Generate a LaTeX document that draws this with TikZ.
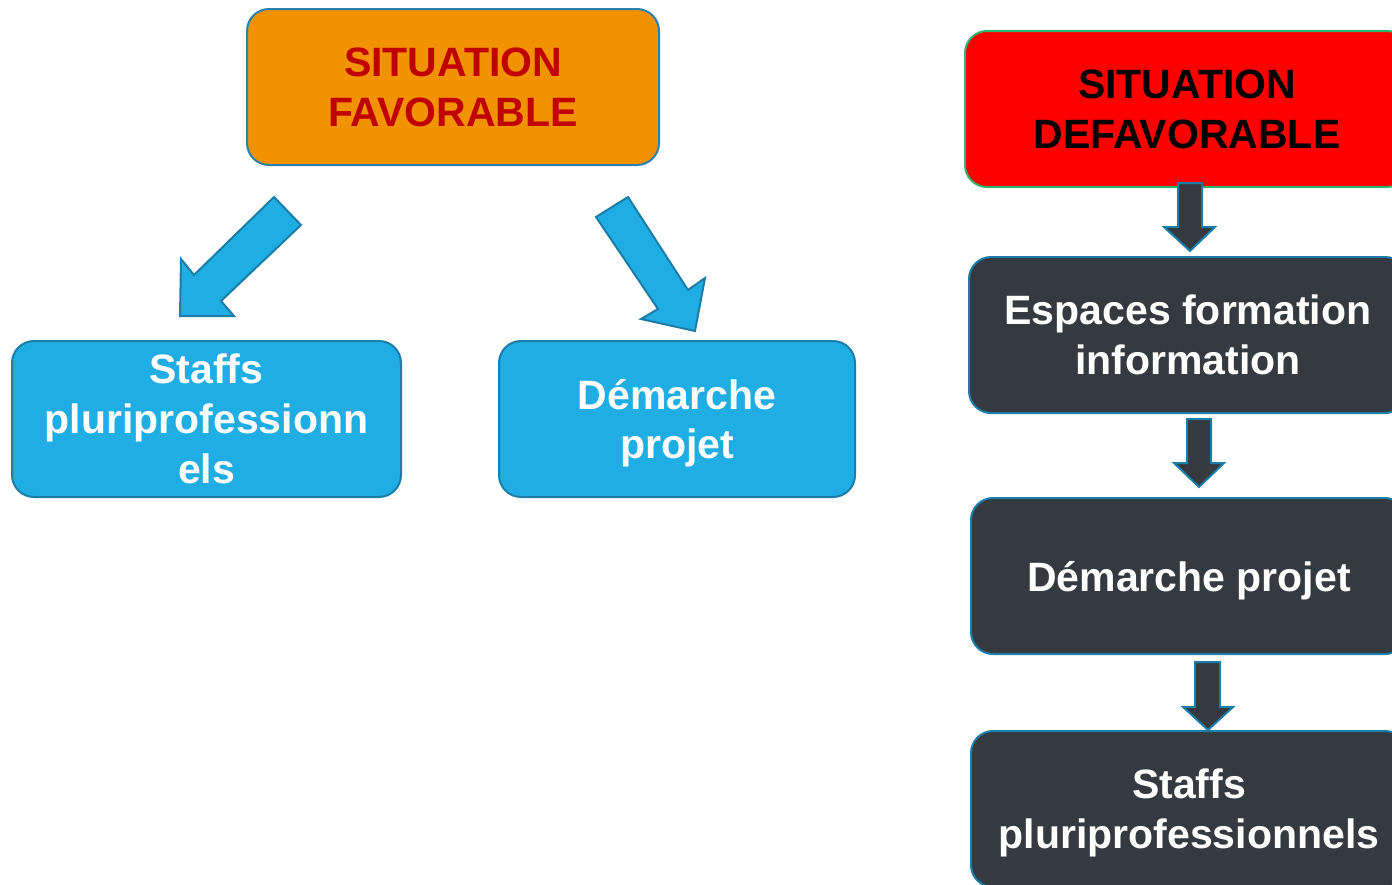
\documentclass[tikz,border=0pt]{standalone}
\usepackage{fontspec}
\setmainfont{Liberation Sans}
\definecolor{orangeF}{HTML}{F29200}
\definecolor{darkred}{HTML}{C00000}
\definecolor{blueF}{HTML}{1FADE3}
\definecolor{blueB}{HTML}{1B7DA8}
\definecolor{darkF}{HTML}{343A3F}
\definecolor{greenB}{HTML}{2DB56E}
\definecolor{orangeB}{HTML}{2A80B0}
\newcommand{\nodepth}[1]{\raisebox{0pt}[\height][0pt]{#1}}
\tikzset{
  box/.style={rounded corners=22pt, line width=2pt, inner sep=0pt, align=center,
    minimum height=156pt, font=\bfseries\fontsize{41}{50}\selectfont},
  favbox/.style={box, fill=orangeF, draw=orangeB, text=darkred},
  bluebox/.style={box, fill=blueF, draw=blueB, text=white},
  redbox/.style={box, fill=red, draw=greenB, text=black},
  darkbox/.style={box, fill=darkF, draw=blueB, text=white},
  diagarrow/.style={fill=blueF, draw=blueB, line width=2pt, line join=miter},
  downarrow/.style={fill=darkF, draw=blueB, line width=2pt, line join=miter},
}
\begin{document}
\begin{tikzpicture}[x=1pt,y=-1pt]
\useasboundingbox (0,0) rectangle (1392,884);
\node[favbox, minimum width=412pt] (fav) at (453,87) {SITUATION\\FAVORABLE};
\node[bluebox, minimum width=389pt] (staffsL) at (206.5,419) {Staffs\\pluriprofessionn\\els};
\node[bluebox, minimum width=356pt] (demL) at (677,419) {Démarche\\[-1pt]\nodepth{projet}};
% diagonal block arrows
\draw[diagarrow] (274,197) -- (301,225) -- (221,301) -- (234,316) -- (180,316) -- (181,259) -- (194,275) -- cycle;
\draw[diagarrow] (628,197) -- (688,290) -- (705,278) -- (695,331) -- (641,319) -- (658,309) -- (596,217) -- cycle;
% right column
\node[redbox, minimum width=444pt] (defav) at (1187,109) {SITUATION\\DEFAVORABLE};
\node[darkbox, minimum width=438pt] (esp) at (1188,335) {Espaces formation\\information};
\node[darkbox, minimum width=436pt] (demR) at (1189,576) {\nodepth{Démarche projet}};
\node[darkbox, minimum width=436pt] (staffsR) at (1189,809) {Staffs\\\nodepth{pluriprofessionnels}};
% down block arrows
\draw[downarrow] (1178,183) -- (1202,183) -- (1202,227) -- (1215,227) -- (1190,251) -- (1164,227) -- (1178,227) -- cycle;
\draw[downarrow] (1187,419) -- (1211,419) -- (1211,463) -- (1224,463) -- (1199,487) -- (1174,463) -- (1187,463) -- cycle;
\draw[downarrow] (1195,662) -- (1220,662) -- (1220,707) -- (1233,707) -- (1208,730) -- (1183,707) -- (1195,707) -- cycle;
\end{tikzpicture}
\end{document}
